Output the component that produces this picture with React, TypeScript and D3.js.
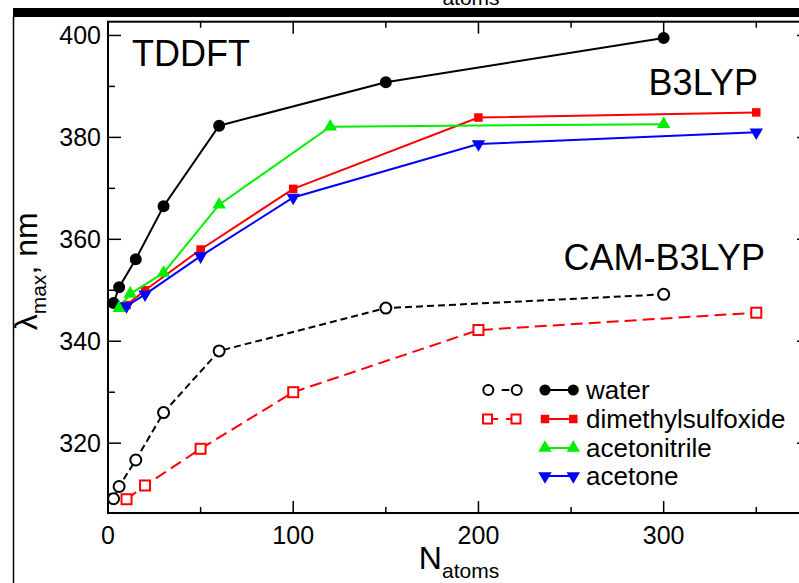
import React from "react";
import * as d3 from "d3";

// ---- data ----
const nWater = [3, 6, 15, 30, 60, 150, 300];
const waterB3LYP = [347.5, 350.6, 356.1, 366.5, 382.3, 390.8, 399.5];
const waterCAM = [309.1, 311.5, 316.7, 326.0, 338.1, 346.5, 349.2];

const nDmso = [10, 20, 50, 100, 200, 350];
const dmsoB3LYP = [347.1, 350.0, 358.0, 369.9, 383.9, 384.9];
const dmsoCAM = [309.0, 311.7, 318.9, 330.0, 342.2, 345.6];

const nAcn = [6, 12, 30, 60, 120, 300];
const acnB3LYP = [346.5, 349.3, 353.4, 366.8, 382.1, 382.6];

const nAce = [10, 20, 50, 100, 200, 350];
const aceB3LYP = [346.9, 349.2, 356.7, 368.2, 378.7, 381.0];

const xTicks = [0, 100, 200, 300];
const xMinor = [50, 150, 250, 350];
const yTicks = [320, 340, 360, 380, 400];
const yMinor = [310, 330, 350, 370, 390];
const legendLabels = ["water", "dimethylsulfoxide", "acetonitrile", "acetone"];

const FONT = "'Liberation Sans', Arial, Helvetica, sans-serif";

type Marker = "circle" | "square" | "up" | "down";

function markerPath(m: Marker, scale = 1): string {
  if (m === "circle") return d3.symbol(d3.symbolCircle, 113 * scale)()!;
  if (m === "square") return d3.symbol(d3.symbolSquare, 72 * scale)()!;
  return d3.symbol(d3.symbolTriangle, 78 * scale)()!;
}

export default function App() {
  const W = 799;
  const H = 583;
  const x = d3.scaleLinear().domain([0, 379]).range([108, 810]);
  const y = d3.scaleLinear().domain([306.3, 402.7]).range([513, 21.7]);
  const [x0, x1] = x.range();
  const [y0, y1] = y.range();

  const line = d3
    .line<[number, number]>()
    .x((d) => x(d[0]))
    .y((d) => y(d[1]));
  const pts = (ns: number[], vs: number[]) =>
    ns.map((n, i) => [n, vs[i]] as [number, number]);

  const solid = [
    { ns: nWater, vs: waterB3LYP, color: "#000000", marker: "circle" as Marker },
    { ns: nDmso, vs: dmsoB3LYP, color: "#ff0000", marker: "square" as Marker },
    { ns: nAcn, vs: acnB3LYP, color: "#00ee00", marker: "up" as Marker },
    { ns: nAce, vs: aceB3LYP, color: "#0000ff", marker: "down" as Marker },
  ];
  const dashed = [
    { ns: nWater, vs: waterCAM, color: "#000000", marker: "circle", dash: "7 4", r: 5.5 },
    { ns: nDmso, vs: dmsoCAM, color: "#ff0000", marker: "square", dash: "12 6", r: 5 },
  ];

  const legendRows = [390, 419, 448, 476];

  return (
    <svg
      width={W}
      height={H}
      style={{ position: "absolute", left: 0, top: 0, background: "#fff" }}
      fontFamily={FONT}
    >
      <rect x={0} y={0} width={W} height={H} fill="#fff" />
      {/* remnant of text above and frame */}
      <text x={471} y={5} fontSize={21} textAnchor="middle" fill="#000">
        atoms
      </text>
      <rect x={13} y={8} width={W - 13} height={9} fill="#000" />
      <line x1={13.5} x2={13.5} y1={17} y2={H} stroke="#000" strokeWidth={1.5} />

      {/* plot frame */}
      <rect
        x={x0}
        y={y1}
        width={x1 - x0}
        height={y0 - y1}
        fill="none"
        stroke="#000"
        strokeWidth={2}
      />
      {/* x ticks */}
      {xTicks.map((t) => (
        <g key={"xt" + t}>
          <line x1={x(t)} x2={x(t)} y1={y0} y2={y0 - 12} stroke="#000" strokeWidth={1.5} />
          <line x1={x(t)} x2={x(t)} y1={y1} y2={y1 + 12} stroke="#000" strokeWidth={1.5} />
          <text x={x(t)} y={y0 + 31} fontSize={25} textAnchor="middle">
            {t}
          </text>
        </g>
      ))}
      {xMinor.map((t) => (
        <g key={"xm" + t}>
          <line x1={x(t)} x2={x(t)} y1={y0} y2={y0 - 6} stroke="#000" strokeWidth={1.5} />
          <line x1={x(t)} x2={x(t)} y1={y1} y2={y1 + 6} stroke="#000" strokeWidth={1.5} />
        </g>
      ))}
      {/* y ticks */}
      {yTicks.map((t) => (
        <g key={"yt" + t}>
          <line x1={x0} x2={x0 + 13} y1={y(t)} y2={y(t)} stroke="#000" strokeWidth={1.5} />
          <line x1={x1} x2={x1 - 13} y1={y(t)} y2={y(t)} stroke="#000" strokeWidth={1.5} />
          <text x={x0 - 7} y={y(t) + 9} fontSize={25} textAnchor="end">
            {t}
          </text>
        </g>
      ))}
      {yMinor.map((t) => (
        <g key={"ym" + t}>
          <line x1={x0} x2={x0 + 7} y1={y(t)} y2={y(t)} stroke="#000" strokeWidth={1.5} />
          <line x1={x1} x2={x1 - 7} y1={y(t)} y2={y(t)} stroke="#000" strokeWidth={1.5} />
        </g>
      ))}

      {/* axis titles */}
      <text x={(x0 + x1) / 2} y={569} fontSize={32} textAnchor="middle">
        N
        <tspan fontSize={21} dy={9}>
          atoms
        </tspan>
      </text>
      <text
        transform={`translate(37, ${(y0 + y1) / 2 + 4}) rotate(-90)`}
        fontSize={32}
        textAnchor="middle"
      >
        λ
        <tspan fontSize={21} dy={9}>
          max
        </tspan>
        <tspan dy={-9}>, nm</tspan>
      </text>

      {/* labels */}
      <text x={132} y={66} fontSize={36}>
        TDDFT
      </text>
      <text x={758} y={95} fontSize={36} textAnchor="end">
        B3LYP
      </text>
      <text x={765} y={270} fontSize={36} textAnchor="end">
        CAM-B3LYP
      </text>

      {/* CAM-B3LYP dashed series */}
      {dashed.map((s, i) => (
        <g key={"d" + i}>
          <path
            d={line(pts(s.ns, s.vs))!}
            fill="none"
            stroke={s.color}
            strokeWidth={2}
            strokeDasharray={s.dash}
          />
          {s.ns.map((n, j) =>
            s.marker === "circle" ? (
              <circle
                key={j}
                cx={x(n)}
                cy={y(s.vs[j])}
                r={s.r}
                fill="#fff"
                stroke={s.color}
                strokeWidth={2}
              />
            ) : (
              <rect
                key={j}
                x={x(n) - s.r}
                y={y(s.vs[j]) - s.r}
                width={2 * s.r}
                height={2 * s.r}
                fill="#fff"
                stroke={s.color}
                strokeWidth={2}
              />
            )
          )}
        </g>
      ))}

      {/* B3LYP solid series */}
      {solid.map((s, i) => (
        <g key={"s" + i}>
          <path
            d={line(pts(s.ns, s.vs))!}
            fill="none"
            stroke={s.color}
            strokeWidth={2}
          />
          {s.ns.map((n, j) => (
            <path
              key={j}
              d={markerPath(s.marker)}
              transform={`translate(${x(n)},${y(s.vs[j])})${s.marker === "down" ? " rotate(180)" : ""}`}
              fill={s.color}
            />
          ))}
        </g>
      ))}

      {/* legend */}
      <g>
        {/* CAM markers */}
        <line x1={501.7} x2={509.3} y1={legendRows[0]} y2={legendRows[0]} stroke="#000" strokeWidth={2} />
        <circle cx={488.3} cy={legendRows[0]} r={5} fill="#fff" stroke="#000" strokeWidth={2} />
        <circle cx={516.7} cy={legendRows[0]} r={5} fill="#fff" stroke="#000" strokeWidth={2} />
        <line x1={492.5} x2={498} y1={legendRows[1]} y2={legendRows[1]} stroke="#ff0000" strokeWidth={2} />
        <line x1={506} x2={511} y1={legendRows[1]} y2={legendRows[1]} stroke="#ff0000" strokeWidth={2} />
        <rect x={483} y={legendRows[1] - 4.5} width={9} height={9} fill="#fff" stroke="#ff0000" strokeWidth={2} />
        <rect x={511.5} y={legendRows[1] - 4.5} width={9} height={9} fill="#fff" stroke="#ff0000" strokeWidth={2} />
        {solid.map((s, i) => (
          <g key={"l" + i}>
            <line x1={545} x2={573.3} y1={legendRows[i]} y2={legendRows[i]} stroke={s.color} strokeWidth={2} />
            {[545, 573.3].map((cx) => (
              <path
                key={cx}
                d={markerPath(s.marker, s.marker === "circle" ? 0.85 : 1)}
                transform={`translate(${cx},${legendRows[i]})${s.marker === "down" ? " rotate(180)" : ""}`}
                fill={s.color}
              />
            ))}
            <text x={586} y={legendRows[i] + 9} fontSize={26}>
              {legendLabels[i]}
            </text>
          </g>
        ))}
      </g>
    </svg>
  );
}
